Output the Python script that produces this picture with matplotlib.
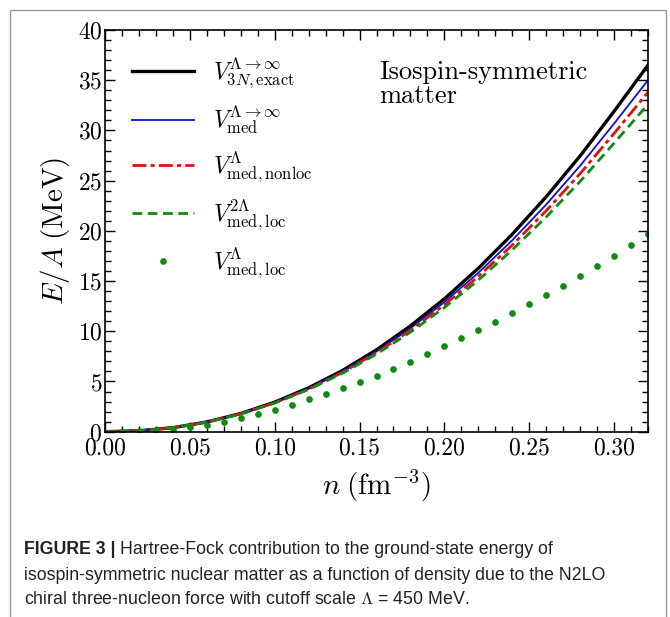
import matplotlib
matplotlib.use("Agg")
import matplotlib.pyplot as plt
from matplotlib.ticker import MultipleLocator, FormatStrFormatter
from matplotlib.patches import Rectangle

plt.rcParams['font.family'] = 'cmr10'
plt.rcParams['mathtext.fontset'] = 'cm'
plt.rcParams['axes.formatter.use_mathtext'] = True

# density grid for the lines (fm^-3)
n_line = [0.00, 0.02, 0.04, 0.06, 0.08, 0.10, 0.12, 0.14, 0.16, 0.18,
          0.20, 0.22, 0.24, 0.26, 0.28, 0.30, 0.32]
E_exact = [0.0, 0.09, 0.40, 0.97, 1.81, 2.94, 4.37, 6.10, 8.15, 10.53,
           13.23, 16.27, 19.66, 23.39, 27.46, 31.90, 36.5]
E_med_inf = [0.0, 0.09, 0.40, 0.96, 1.79, 2.90, 4.31, 5.99, 7.99, 10.29,
             12.90, 15.82, 19.06, 22.62, 26.48, 30.68, 35.0]
E_med_nonloc = [0.0, 0.09, 0.40, 0.96, 1.78, 2.87, 4.25, 5.91, 7.86, 10.10,
                12.63, 15.46, 18.58, 22.00, 25.70, 29.70, 33.8]
E_med_loc2 = [0.0, 0.09, 0.39, 0.95, 1.76, 2.85, 4.20, 5.82, 7.73, 9.91,
              12.36, 15.09, 18.11, 21.38, 24.92, 28.73, 32.6]

# dotted series
n_dots = [0.01, 0.02, 0.03, 0.04, 0.05, 0.06, 0.07, 0.08, 0.09, 0.10,
          0.11, 0.12, 0.13, 0.14, 0.15, 0.16, 0.17, 0.18, 0.19, 0.20,
          0.21, 0.22, 0.23, 0.24, 0.25, 0.26, 0.27, 0.28, 0.29, 0.30,
          0.31, 0.32]
E_med_loc = [0.01, 0.05, 0.13, 0.25, 0.42, 0.64, 0.95, 1.35, 1.80, 2.20,
             2.68, 3.22, 3.74, 4.32, 4.93, 5.58, 6.28, 6.97, 7.71, 8.51,
             9.30, 10.13, 10.96, 11.85, 12.72, 13.62, 14.54, 15.51, 16.50, 17.50,
             18.60, 19.66]

labels = [r'$V_{3N,\mathrm{exact}}^{\Lambda\to\infty}$',
          r'$V_{\mathrm{med}}^{\Lambda\to\infty}$',
          r'$V_{\mathrm{med,nonloc}}^{\Lambda}$',
          r'$V_{\mathrm{med,loc}}^{2\Lambda}$',
          r'$V_{\mathrm{med,loc}}^{\Lambda}$']

caption_bold = 'FIGURE 3 |'
caption_lines = ['Hartree-Fock contribution to the ground-state energy of',
                 'isospin-symmetric nuclear matter as a function of density due to the N2LO',
                 r'chiral three-nucleon force with cutoff scale $\Lambda$ = 450 MeV.']

fig = plt.figure(figsize=(6.70, 6.17), dpi=100)
ax = fig.add_axes([105/670, 1-431.7/617, (648-105)/670, (431.7-30)/617])

ax.plot(n_line, E_exact, color='black', lw=2.4, label=labels[0])
ax.plot(n_line, E_med_inf, color='#1010d0', lw=1.3, label=labels[1])
ax.plot(n_line, E_med_nonloc, color='#e01010', lw=2.0, ls=(0, (5, 1.5, 1.5, 1.5)), label=labels[2])
ax.plot(n_line, E_med_loc2, color='#108a10', lw=2.0, ls=(0, (3.5, 2)), label=labels[3])
ax.plot(n_dots, E_med_loc, ls='none', marker='o', ms=3.8, color='#108a10', label=labels[4])

ax.set_xlim(0, 0.32)
ax.set_ylim(0, 40)
ax.xaxis.set_major_locator(MultipleLocator(0.05))
ax.xaxis.set_minor_locator(MultipleLocator(0.01))
ax.xaxis.set_major_formatter(FormatStrFormatter('%.2f'))
ax.yaxis.set_major_locator(MultipleLocator(5))
ax.yaxis.set_minor_locator(MultipleLocator(1))
ax.tick_params(which='both', direction='in', top=True, right=True, width=1.0, labelsize=17)
ax.tick_params(which='major', length=7)
ax.tick_params(which='minor', length=4)
ax.tick_params(axis='x', pad=4)
ax.tick_params(axis='y', pad=2)
for s in ax.spines.values():
    s.set_linewidth(1.2)

ax.set_xlabel(r'$n\;(\mathrm{fm}^{-3})$', fontsize=21, labelpad=6)
ax.set_ylabel(r'$E/A\;(\mathrm{MeV})$', fontsize=21, labelpad=4)

ax.legend(loc='upper left', frameon=False, fontsize=17, handlelength=2.6,
          numpoints=1, labelspacing=0.56, borderaxespad=0.3, handletextpad=0.8,
          bbox_to_anchor=(0.02, 0.978))

ax.text(0.505, 0.925, 'Isospin-symmetric\nmatter', transform=ax.transAxes,
        fontsize=19, va='top', ha='left', linespacing=1.0)

# caption frame
fig.patches.append(Rectangle((10/670, -0.01), 656/670, 1-10/617+0.01, transform=fig.transFigure,
                             fill=False, edgecolor='#9a9a9a', lw=1.0))

cap_font = ['Liberation Sans Narrow', 'Liberation Sans', 'DejaVu Sans']
cap_size = 12.8
tb = fig.text(24/670, 1-549/617, caption_bold, fontsize=cap_size, fontweight='bold',
              family=cap_font, va='center', ha='left', color='#222222')
fig.canvas.draw()
bb = tb.get_window_extent(renderer=fig.canvas.get_renderer())
x_after = (bb.x1 + 4) / fig.bbox.width
fig.text(x_after, 1-549/617, caption_lines[0],
         fontsize=cap_size, family=cap_font, va='center', ha='left', color='#222222')
fig.text(24/670, 1-575/617, caption_lines[1],
         fontsize=cap_size, family=cap_font, va='center', ha='left', color='#222222')
fig.text(24/670, 1-600/617, caption_lines[2],
         fontsize=cap_size, family=cap_font, va='center', ha='left', color='#222222')

fig.savefig('out.png', dpi=100)
